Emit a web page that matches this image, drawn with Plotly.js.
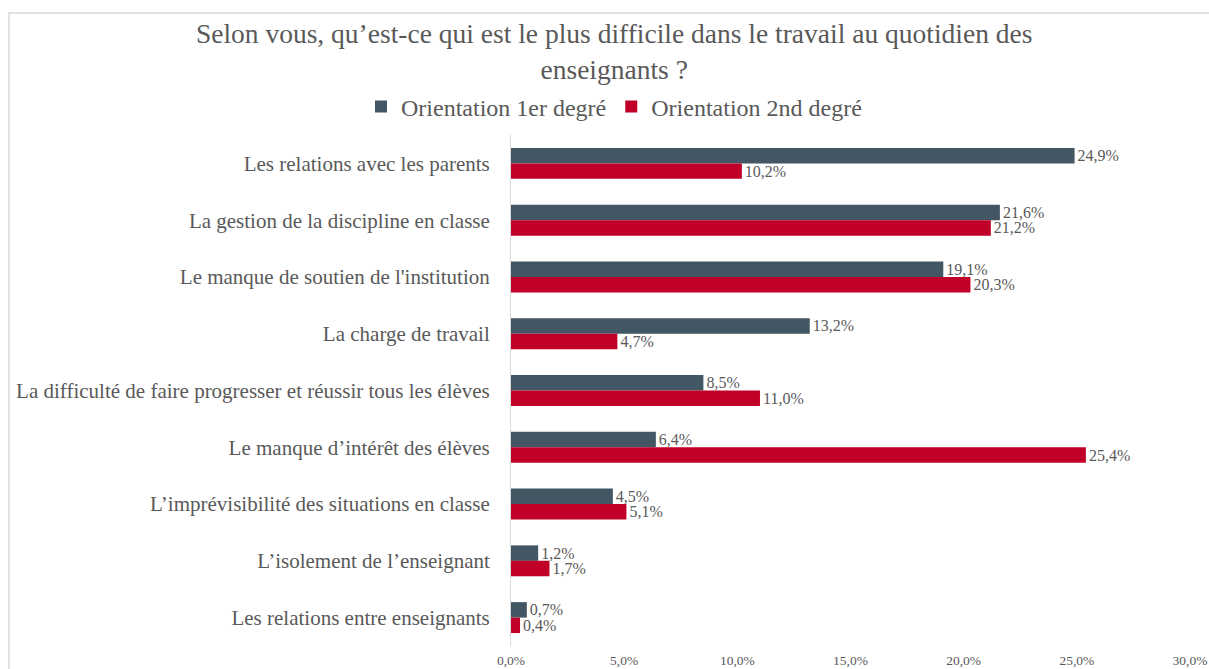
<!DOCTYPE html>
<html>
<head>
<meta charset="utf-8">
<script src="https://cdn.plot.ly/plotly-3.0.1.min.js"></script>
<style>
html,body{margin:0;padding:0;background:#fff;}
#chart{width:1209px;height:669px;}
</style>
</head>
<body>
<div id="chart"></div>
<script>
const categories = [
  "Les relations avec les parents",
  "La gestion de la discipline en classe",
  "Le manque de soutien de l'institution",
  "La charge de travail",
  "La difficulté de faire progresser et réussir tous les élèves",
  "Le manque d’intérêt des élèves",
  "L’imprévisibilité des situations en classe",
  "L’isolement de l’enseignant",
  "Les relations entre enseignants"
];
const premierDegre = [24.9, 21.6, 19.1, 13.2, 8.5, 6.4, 4.5, 1.2, 0.7];
const secondDegre = [10.2, 21.2, 20.3, 4.7, 11.0, 25.4, 5.1, 1.7, 0.4];
const seriesNames = ["Orientation 1er degré", "Orientation 2nd degré"];
const tickValues = [0, 5, 10, 15, 20, 25, 30];
const tickLabels = ["0,0%", "5,0%", "10,0%", "15,0%", "20,0%", "25,0%", "30,0%"];

const FONT = "Liberation Serif, serif";
const TXT = "#595959";

const traces = [
  {type:"bar", orientation:"h", name:seriesNames[0], y:categories, x:premierDegre,
   marker:{color:"#435663"}, texttemplate:"%{x:.1f}%", textposition:"outside",
   constraintext:"none", textfont:{family:FONT,size:16,color:TXT}, cliponaxis:false},
  {type:"bar", orientation:"h", name:seriesNames[1], y:categories, x:secondDegre,
   marker:{color:"#C00029"}, texttemplate:"%{x:.1f}%", textposition:"outside",
   constraintext:"none", textfont:{family:FONT,size:16,color:TXT}, cliponaxis:false}
];

const layout = {
  width:1209, height:669,
  paper_bgcolor:"#fff", plot_bgcolor:"#fff",
  separators:", ",
  font:{family:FONT, color:TXT},
  margin:{l:511, r:19, t:135, b:23, autoexpand:false},
  title:{text:"Selon vous, qu’est-ce qui est le plus difficile dans le travail au quotidien des<br>enseignants ?",
         font:{family:FONT,size:27.5,color:TXT}, x:0.508, xref:"container", xanchor:"center",
         y:0.935, yref:"container", yanchor:"top"},
  showlegend:true,
  legend:{orientation:"h", x:(614-511)/679, xanchor:"center", y:1+(135-107)/511, yanchor:"middle",
          font:{family:FONT,size:24,color:TXT}, traceorder:"normal"},
  barmode:"group", bargap:0.455, bargroupgap:0,
  xaxis:{range:[0,30], tickmode:"array", tickvals:tickValues, ticktext:tickLabels,
         showgrid:false, zeroline:false, showline:false, automargin:false,
         ticks:"outside", ticklen:2, tickcolor:"rgba(0,0,0,0)",
         tickfont:{family:FONT,size:13.5,color:TXT}},
  yaxis:{autorange:"reversed", showgrid:false, zeroline:false, showline:true, automargin:false,
         linecolor:"#d9d9d9", linewidth:1, ticks:"outside", ticklen:16, tickcolor:"rgba(0,0,0,0)",
         tickfont:{family:FONT,size:21,color:TXT}},
  shapes:[{type:"rect", xref:"paper", yref:"paper",
           x0:(9-511)/679, x1:(1230-511)/679, y0:-0.1, y1:1+(135-13)/511,
           line:{color:"#d9d9d9", width:1.5}, fillcolor:"rgba(0,0,0,0)", layer:"below"}]
};

Plotly.newPlot("chart", traces, layout, {displayModeBar:false, staticPlot:true});
</script>
</body>
</html>
